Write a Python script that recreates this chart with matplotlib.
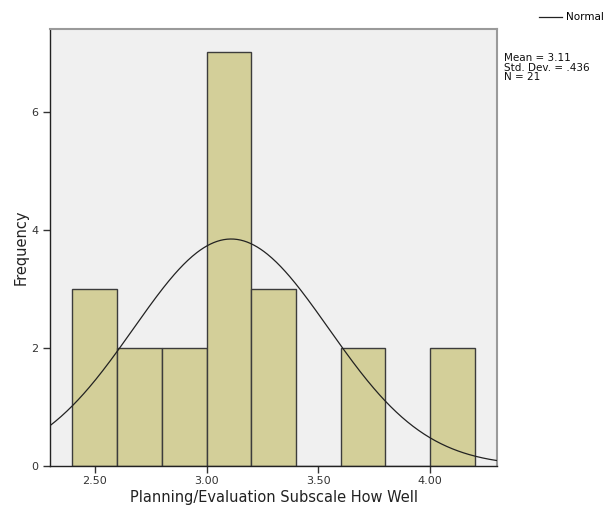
import numpy as np
import matplotlib
matplotlib.use("Agg")
import matplotlib.pyplot as plt

# histogram bins (left edges) and counts
bin_edges = [2.4, 2.6, 2.8, 3.0, 3.2, 3.4, 3.6, 3.8, 4.0, 4.2]
counts = [3, 2, 2, 7, 3, 0, 2, 0, 2]

# summary stats printed on the chart
mean = 3.11
std_dev = 0.436
n = 21

xticks = [2.5, 3.0, 3.5, 4.0]
xtick_labels = ["2.50", "3.00", "3.50", "4.00"]
yticks = [0, 2, 4, 6]

plt.rcParams['font.family'] = ['DejaVu Sans']

fig = plt.figure(figsize=(6.1, 5.15), dpi=100)
ax = fig.add_axes([0.082, 0.095, 0.733, 0.849])
ax.set_facecolor('#f0f0f0')

lefts = np.array(bin_edges[:-1])
widths = np.diff(bin_edges)
ax.bar(lefts, counts, width=widths, align='edge', color='#d3cf99',
       edgecolor='#3c3c3c', linewidth=1.0, zorder=2)

# normal curve scaled to the histogram
bw = widths[0]
xs = np.linspace(2.30, 4.30, 400)
ys = n * bw / (std_dev * np.sqrt(2 * np.pi)) * np.exp(-0.5 * ((xs - mean) / std_dev) ** 2)
line, = ax.plot(xs, ys, color='#222222', linewidth=0.9, zorder=3)

ax.set_xlim(2.30, 4.30)
ax.set_ylim(0, 7.4)
ax.set_xticks(xticks)
ax.set_xticklabels(xtick_labels)
ax.set_yticks(yticks)
ax.tick_params(axis='both', labelsize=8, colors='#333333', length=5, width=1.0)
ax.tick_params(axis='x', pad=2)

for side in ['left', 'bottom']:
    ax.spines[side].set_color('#222222')
    ax.spines[side].set_linewidth(1.0)
for side in ['top', 'right']:
    ax.spines[side].set_color('#9a9a9a')
    ax.spines[side].set_linewidth(1.5)

ax.set_xlabel("Planning/Evaluation Subscale How Well", fontsize=10.5,
              color='#222222', labelpad=3)
ax.set_ylabel("Frequency", fontsize=10.5, color='#222222', labelpad=2)

fig.legend([line], ["Normal"], loc='upper right', bbox_to_anchor=(1.0, 0.988),
           frameon=False, fontsize=7.5, handlelength=2.2, handletextpad=0.4,
           borderaxespad=0.2)

fig.text(0.826, 0.897, "Mean = 3.11\nStd. Dev. = .436\nN = 21", fontsize=7.5,
         va='top', ha='left', color='#111111', linespacing=0.95)

fig.savefig("out.png", dpi=100)
